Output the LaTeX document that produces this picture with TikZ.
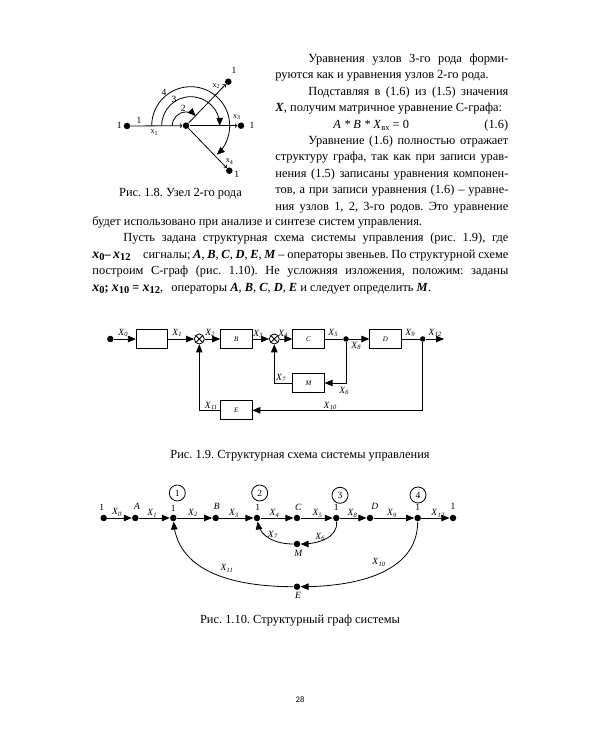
\documentclass[tikz,border=0pt]{standalone}
\usepackage{fontspec}
\setmainfont{Liberation Serif}
\newfontfamily\pagenofont{Carlito}
\usetikzlibrary{arrows, positioning}
\frenchspacing
\newcommand{\sgn}[2]{\textit{#1}\raisebox{-.35ex}{\fontsize{6.5}{6.5}\selectfont\textit{#2}}}
\newcommand{\bsgn}[2]{{\fontsize{14}{14}\selectfont\textbf{\textit{#1}}}\raisebox{-.35ex}{\fontsize{10.5}{10.5}\selectfont\textbf{#2}}}
\newcommand{\low}[1]{\raisebox{-.3ex}{\fontsize{6}{6}\selectfont #1}}
\tikzset{
  txt/.style={inner sep=0pt, anchor=base west, font=\fontsize{12.4}{13}\selectfont},
  figcap/.style={inner sep=0pt, anchor=base, font=\fontsize{12.4}{13}\selectfont},
  lbl/.style={inner sep=0pt, font=\fontsize{9.5}{10}\selectfont},
  ilbl/.style={lbl, font=\fontsize{9.5}{10}\selectfont\itshape},
  xlbl/.style={lbl, font=\fontsize{8}{8}\selectfont},
  blk/.style={draw, line width=0.9pt, minimum width=31.5pt, minimum height=19pt, inner sep=0pt, font=\fontsize{7}{7}\selectfont\itshape},
  sumnode/.style={draw, circle, line width=0.8pt, minimum size=10pt, inner sep=0pt,
    path picture={\draw (path picture bounding box.north west) -- (path picture bounding box.south east)
      (path picture bounding box.north east) -- (path picture bounding box.south west);}},
  dot/.style={circle, fill=black, minimum size=6.5pt, inner sep=0pt},
  num/.style={draw, circle, line width=0.8pt, minimum size=16pt, inner sep=0pt, font=\fontsize{9.5}{10}\selectfont},
}
\begin{document}
\begin{tikzpicture}[x=1pt, y=1pt, >=triangle 45, line width=0.8pt]
\useasboundingbox (0,0) rectangle (600,750);
% text of the page
\node[txt] (t1) at (308,687) {\makebox[200pt][s]{Уравнения узлов 3-го рода форми-}};
\node[txt] (t2) at (275,671) {руются как и уравнения узлов 2-го рода.};
\node[txt] (t3) at (308,654) {\makebox[200pt][s]{Подставляя в (1.6) из (1.5) значения}};
\node[txt] (t4) at (275,638) {\textbf{\textit{X}}, получим матричное уравнение С-графа:};
\node[txt] (t5) at (333,621) {\textit{A * B * X}\raisebox{-.35ex}{\fontsize{8.5}{8.5}\selectfont вх} = 0};
\node[txt] (t6) at (484,621) {(1.6)};
\node[txt] (t7) at (308,605) {\makebox[200pt][s]{Уравнение (1.6) полностью отражает}};
\node[txt] (t8) at (275,589) {\makebox[233pt][s]{структуру графа, так как при записи урав-}};
\node[txt] (t9) at (275,572) {\makebox[233pt][s]{нения (1.5) записаны уравнения компонен-}};
\node[txt] (t10) at (275,556) {\makebox[233pt][s]{тов, а при записи уравнения (1.6) -- уравне-}};
\node[txt] (t11) at (275,539) {\makebox[233pt][s]{ния узлов 1, 2, 3-го родов. Это уравнение}};
\node[txt] (t12) at (92,524) {будет использовано при анализе и синтезе систем управления.};
\node[txt] (t13) at (123,508) {\makebox[385pt][s]{Пусть задана структурная схема системы управления (рис. 1.9), где}};
\node[txt] (t14) at (92,491) {\makebox[416pt][s]{\makebox[48pt][l]{\bsgn{x}{0}\textbf{--}\,\bsgn{x}{12}} сигналы; \textbf{\textit{A}}, \textbf{\textit{B}}, \textbf{\textit{C}}, \textbf{\textit{D}}, \textbf{\textit{E}}, \textbf{\textit{M}} -- операторы звеньев. По структурной схеме}};
\node[txt] (t15) at (92,475) {\makebox[416pt][s]{построим С-граф (рис. 1.10). Не усложняя изложения, положим: заданы}};
\node[txt] (t16) at (92,458) {\makebox[76pt][l]{\bsgn{x}{0}\textbf{;} \bsgn{x}{10} \textbf{=} \bsgn{x}{12},} операторы \textbf{\textit{A}}, \textbf{\textit{B}}, \textbf{\textit{C}}, \textbf{\textit{D}}, \textbf{\textit{E}} и следует определить \textbf{\textit{M}}.};
\node[figcap] (c8) at (180.5,553) {Рис. 1.8. Узел 2-го рода};
\node[figcap] (c9) at (300,291) {Рис. 1.9. Структурная схема системы управления};
\node[figcap] (c10) at (300,126) {Рис. 1.10. Структурный граф системы};
\node[inner sep=0pt, font=\pagenofont\fontsize{8.5}{8.5}\selectfont] (pg) at (300,50) {28};

% fig 1.8
\node[dot] (v0) at (186,624.3) {};
\node[dot] (v1) at (127,624) {};
\node[dot] (v2) at (228.3,668.3) {};
\node[dot] (v3) at (241,624.3) {};
\node[dot] (v4) at (229.3,579.3) {};
\draw[->, >=to] (v1) -- (v0);
\draw[->, >=to] (v0) -- (v2);
\draw[->, >=to] (v0) -- (v3);
\draw[->, >=to] (v0) -- (v4);
\coordinate (a2) at (172.3,624.3);
\coordinate (a3) at (161.7,624.3);
\coordinate (a4) at (151.7,624.3);
\draw[->] (a2) arc[start angle=180, end angle=45, radius=13.7];
\draw[->] (a3) arc[start angle=180, end angle=0, radius=29];
\draw[->] (a4) arc[start angle=180, end angle=-48, radius=39];
\node[lbl] (n1) at (139,630) {1};
\node[lbl] (n2) at (183.3,641.7) {2};
\node[lbl] (n3) at (174,650.7) {3};
\node[lbl] (n4) at (164,657.7) {4};
\node[lbl] (w1) at (119.3,624.3) {1};
\node[lbl] (w2) at (234,680) {1};
\node[lbl] (w3) at (252,625) {1};
\node[lbl] (w4) at (236.7,576) {1};
\node[xlbl] (x1) at (154,617.3) {x\low{1}};
\node[xlbl] (x2) at (216,664) {x\low{2}};
\node[xlbl] (x3) at (236.7,632.7) {x\low{3}};
\node[xlbl] (x4) at (229.3,588.3) {x\low{4}};

% fig 1.9
\node[dot] (in) at (110.3,411) {};
\node[blk, right of=in, node distance=41.7pt] (bA) {};
\node[sumnode, right of=bA, node distance=47.3pt] (s1) {};
\node[blk, right of=s1, node distance=37pt] (bB) {B};
\node[sumnode, right of=bB, node distance=38pt] (s2) {};
\node[blk, right of=s2, node distance=34.2pt] (bC) {C};
\node[dot, right of=bC, node distance=37.5pt, minimum size=5.5pt] (j1) {};
\node[blk, right of=j1, node distance=39.5pt] (bD) {D};
\node[dot, right of=bD, node distance=37.2pt, minimum size=5.5pt] (j2) {};
\coordinate[right of=j2, node distance=21.3pt] (out);
\node[blk, below of=bC, node distance=44pt] (bM) {M};
\node[blk, below of=bB, node distance=71.3pt] (bE) {E};
\draw[->] (in) -- (bA);
\draw[->] (bA) -- (s1);
\draw[->] (s1) -- (bB);
\draw[->] (bB) -- (s2);
\draw[->] (s2) -- (bC);
\draw[->] (bC) -- (j1) -- (bD);
\draw[->] (bD) -- (j2) -- (out);
\draw[->] (j1) |- (bM);
\draw[->] (bM) -| (s2);
\draw[->] (j2) |- (bE);
\draw[->] (bE) -| (s1);
\node[lbl] (l0) at (123,417) {\sgn{X}{0}};
\node[lbl] (l1) at (177,417) {\sgn{X}{1}};
\node[lbl] (l2) at (210,417) {\sgn{X}{2}};
\node[lbl] (l3) at (258,416) {\sgn{X}{3}};
\node[lbl] (l4) at (283,416) {\sgn{X}{4}};
\node[lbl] (l5) at (333,417) {\sgn{X}{5}};
\node[lbl] (l8) at (356,404) {\sgn{X}{8}};
\node[lbl] (l9) at (410,417) {\sgn{X}{9}};
\node[lbl] (l12) at (435,417) {\sgn{X}{12}};
\node[lbl] (l7) at (281,372) {\sgn{X}{7}};
\node[lbl] (l6) at (344,359) {\sgn{X}{6}};
\node[lbl] (l10) at (330,344) {\sgn{X}{10}};
\node[lbl] (l11) at (211,344) {\sgn{X}{11}};

% fig 1.10
\node[dot] (g0) at (103.7,232) {};
\node[dot, right of=g0, node distance=31.6pt] (gA) {};
\node[dot, right of=gA, node distance=38pt] (g1) {};
\node[dot, right of=g1, node distance=42.4pt] (gB) {};
\node[dot, right of=gB, node distance=41.3pt] (g2) {};
\node[dot, right of=g2, node distance=40pt] (gC) {};
\node[dot, right of=gC, node distance=39.3pt] (g3) {};
\node[dot, right of=g3, node distance=33.7pt] (gD) {};
\node[dot, right of=gD, node distance=47.7pt] (g4) {};
\node[dot, right of=g4, node distance=35.3pt] (g5) {};
\node[dot, below of=gC, node distance=26pt] (gM) {};
\node[dot, below of=gC, node distance=68.7pt] (gE) {};
\draw[->] (g0) -- (gA);
\draw[->] (gA) -- (g1);
\draw[->] (g1) -- (gB);
\draw[->] (gB) -- (g2);
\draw[->] (g2) -- (gC);
\draw[->] (gC) -- (g3);
\draw[->] (g3) -- (gD);
\draw[->] (gD) -- (g4);
\draw[->] (g4) -- (g5);
\draw[->] (gM) to[out=180, in=-80] (g2);
\draw[->] (g3) to[out=-85, in=0] (gM);
\draw[->] (g4) to[out=-90, in=0] (gE);
\draw[->] (gE) to[out=180, in=-85] (g1);
\node[num] (k1) at (177.3,257) {1};
\node[num] (k2) at (259.7,257) {2};
\node[num] (k3) at (340,254.7) {3};
\node[num] (k4) at (418,255) {4};
\node[lbl] (e0) at (101.7,243) {1};
\node[ilbl] (eA) at (137,244) {A};
\node[lbl] (e1) at (173.3,241.7) {1};
\node[ilbl] (eB) at (216.7,243.3) {B};
\node[lbl] (e2) at (257.7,242.7) {1};
\node[ilbl] (eC) at (298.3,242.7) {C};
\node[lbl] (e3) at (336.3,242.7) {1};
\node[ilbl] (eD) at (374.7,243.3) {D};
\node[lbl] (e4) at (417.7,243) {1};
\node[lbl] (e5) at (453,243.3) {1};
\node[ilbl] (eM) at (298.3,196.7) {M};
\node[ilbl] (eE) at (298,155) {E};
\node[lbl] (m0) at (116.7,237.7) {\sgn{X}{0}};
\node[lbl] (m1) at (152,236.7) {\sgn{X}{1}};
\node[lbl] (m2) at (192.7,237) {\sgn{X}{2}};
\node[lbl] (m3) at (233.7,236.7) {\sgn{X}{3}};
\node[lbl] (m4) at (274.3,236.7) {\sgn{X}{4}};
\node[lbl] (m5) at (317.3,236.7) {\sgn{X}{5}};
\node[lbl] (m8) at (352.3,236.7) {\sgn{X}{8}};
\node[lbl] (m9) at (391.7,236.7) {\sgn{X}{9}};
\node[lbl] (m12) at (437.7,236.7) {\sgn{X}{12}};
\node[lbl] (m7) at (272.7,215) {\sgn{X}{7}};
\node[lbl] (m6) at (320,213.3) {\sgn{X}{6}};
\node[lbl] (m10) at (378.7,187.7) {\sgn{X}{10}};
\node[lbl] (m11) at (226.7,181.7) {\sgn{X}{11}};
\end{tikzpicture}
\end{document}
